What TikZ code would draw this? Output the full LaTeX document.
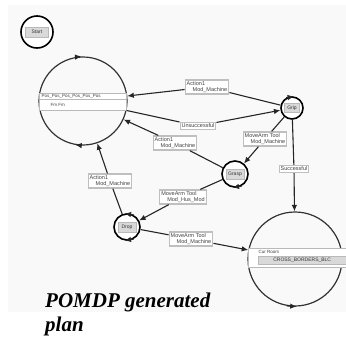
\documentclass[tikz,border=0pt]{standalone}
\usepackage{fontspec}
\setmainfont{Liberation Serif}
\newfontfamily\lblfont{Liberation Sans}
\usetikzlibrary{arrows.meta}
\begin{document}
\begin{tikzpicture}[x=1pt,y=-1pt,
  tip/.style={-{Latex[length=6.5pt,width=5.5pt]}},
  conn/.style={draw=black!85,line width=1.1pt},
  bigst/.style={circle,draw=black!80,line width=1.2pt,minimum size=#1,inner sep=0pt},
  smst/.style={circle,draw=black,line width=1.6pt,fill=white,minimum size=#1,inner sep=0pt},
  lbl/.style={draw=gray!50,line width=1.2pt,fill=white,font=\lblfont\fontsize{5.5}{6}\selectfont,text=black!75,align=left,inner sep=1.5pt},
  inlbl/.style={fill=gray!30,draw=gray!55,font=\lblfont\fontsize{5}{5.5}\selectfont,inner sep=1pt,text=black!80},
  bartxt/.style={font=\lblfont\fontsize{4.5}{5}\selectfont,text=black!75,inner sep=0.5pt},
  title/.style={font=\bfseries\itshape\fontsize{21}{24}\selectfont,inner sep=0pt,anchor=base west}
]
\useasboundingbox (0,0) rectangle (346,338);
\fill[gray!5] (8,5) rectangle (346,312);

% states
\node[smst=32pt] (start) at (37,32) {};
\node[inlbl,minimum width=23pt,minimum height=10pt] (startl) at (start) {Start};

\node[bigst=88pt] (L) at (83,101) {};
\draw[gray!55,line width=0.9pt,fill=white] (39.5,93) rectangle (126.5,110);
\draw[gray!55,line width=0.9pt] (39.5,99) -- (126.5,99);
\node[bartxt,anchor=west] (Lt1) at (41,96) {Pos\_Pos\_Pos\_Pos\_Pos\_Pos};
\node[bartxt,anchor=west] (Lt2) at (50,104.5) {Fm Fm};

\node[smst=22pt] (R) at (292,108) {};
\node[inlbl,minimum width=15pt,minimum height=9pt] (Rl) at (R) {Grip};
\node[smst=26pt] (M) at (235,174) {};
\node[inlbl,minimum width=18pt,minimum height=10pt] (Ml) at (M) {Grasp};
\node[smst=26pt] (LL) at (127,227) {};
\node[inlbl,minimum width=18pt,minimum height=10pt] (LLl) at (LL) {Drop};

\node[bigst=94pt] (BR) at (295,259) {};
\draw[gray!55,line width=0.9pt,fill=white] (248.5,248) rectangle (346,267);
\node[bartxt,anchor=west] (BRt1) at (258,251.5) {Cur Room};
\node[inlbl,anchor=west,minimum width=88pt,minimum height=8pt] (BRt2) at (258,260) {CROSS\_BORDERS\_BLC};

% edge labels
\node[lbl] (B1) at (207,87) {Action1\\\hspace*{6pt}Mod\_Machine};
\node[lbl] (B2) at (198,126) {Unsuccessful};
\node[lbl] (B3) at (175,143) {Action1\\\hspace*{6pt}Mod\_Machine};
\node[lbl] (B4) at (265,139) {MoveArm Tool\\\hspace*{6pt}Mod\_Machine};
\node[lbl] (B5) at (294,169) {Successful};
\node[lbl] (B6) at (183,197) {MoveArm Tool\\\hspace*{6pt}Mod\_Hus\_Mod};
\node[lbl] (B7) at (110,181) {Action1\\\hspace*{6pt}Mod\_Machine};
\node[lbl] (B8) at (191,239) {MoveArm Tool\\\hspace*{6pt}Mod\_Machine};

% connectors
\draw[conn] (R) -- (B1);  \draw[conn,tip] (B1) -- (L);
\draw[conn] (L) -- (B2);  \draw[conn,tip] (B2) -- (R);
\draw[conn] (M) -- (B3);  \draw[conn,tip] (B3) -- (L);
\draw[conn] (R) -- (B4);  \draw[conn,tip] (B4) -- (M);
\draw[conn] (R) -- (B5);  \draw[conn,tip] (B5) -- (BR);
\draw[conn] (M) -- (B6);  \draw[conn,tip] (B6) -- (LL);
\draw[conn] (LL) -- (B7); \draw[conn,tip] (B7) -- (L);
\draw[conn] (LL) -- (B8); \draw[conn,tip] (B8) -- (BR);

% arrowheads on the state outlines
\draw[conn,tip] (L.100) -- (L.92);
\draw[conn,tip] (L.-92) -- (L.-100);
\draw[conn,tip] (R.120) -- (R.80);
\draw[conn,tip] (M.-60) -- (M.-100);
\draw[conn,tip] (LL.60) -- (LL.100);
\draw[conn,tip] (LL.-60) -- (LL.-100);
\draw[conn,tip] (BR.-100) -- (BR.-88);

% caption
\node[title] (t1) at (45,307) {POMDP generated};
\node[title] (t2) at (45,331) {plan};
\end{tikzpicture}
\end{document}
